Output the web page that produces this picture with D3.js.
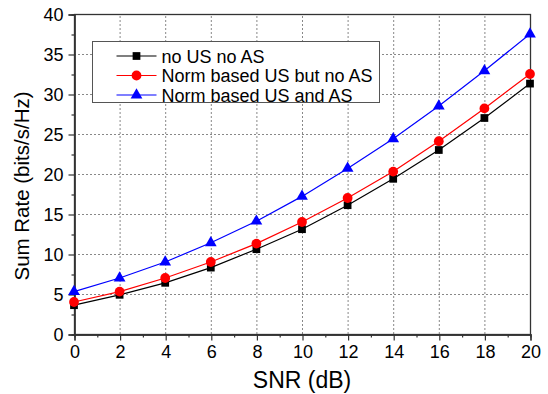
<!DOCTYPE html>
<html>
<head>
<meta charset="utf-8">
<script src="https://cdn.jsdelivr.net/npm/d3@7"></script>
<style>
  body { margin: 0; background: #fff; }
  svg { display: block; font-family: "Liberation Sans", Arial, sans-serif; }
</style>
</head>
<body>
<svg id="chart" width="548" height="394"></svg>
<script>
// SNR values (dB) along the x axis
const snr = [0, 2, 4, 6, 8, 10, 12, 14, 16, 18, 20];

// sum rate, one array per scheme
const noUsNoAs = [3.6, 4.9, 6.4, 8.3, 10.6, 13.1, 16.1, 19.4, 23.0, 27.0, 31.3];
const normUsNoAs = [4.0, 5.3, 7.0, 9.0, 11.3, 14.0, 17.0, 20.3, 24.1, 28.2, 32.5];
const normUsAs = [5.3, 7.0, 9.0, 11.4, 14.1, 17.2, 20.7, 24.4, 28.5, 32.9, 37.5];

const seriesNames = ['no US no AS', 'Norm based US but no AS', 'Norm based US and AS'];
const xTicks = [0, 2, 4, 6, 8, 10, 12, 14, 16, 18, 20];
const yTicks = [0, 5, 10, 15, 20, 25, 30, 35, 40];

const series = [
  { name: seriesNames[0], values: noUsNoAs, color: '#000000', symbol: d3.symbolSquare, size: 60 },
  { name: seriesNames[1], values: normUsNoAs, color: '#ff0000', symbol: d3.symbolCircle, size: 75 },
  { name: seriesNames[2], values: normUsAs, color: '#0000ff', symbol: d3.symbolTriangle, size: 60 }
];

const margin = { left: 74, right: 18, top: 14, bottom: 60 };
const width = 548, height = 394;
const svg = d3.select('#chart');

const x = d3.scaleLinear().domain([0, 20]).range([margin.left, width - margin.right]);
const y = d3.scaleLinear().domain([0, 40]).range([height - margin.bottom, margin.top]);

// dotted grid
const grid = svg.append('g').attr('stroke', '#888').attr('stroke-width', 1).attr('stroke-dasharray', '2,2');
grid.selectAll('line.gx').data(xTicks.slice(1, -1)).enter().append('line')
  .attr('x1', d => x(d) + 0.5).attr('x2', d => x(d) + 0.5)
  .attr('y1', y(0)).attr('y2', y(40));
grid.selectAll('line.gy').data(yTicks.slice(1, -1)).enter().append('line')
  .attr('y1', d => y(d) + 0.5).attr('y2', d => y(d) + 0.5)
  .attr('x1', x(0)).attr('x2', x(20));

// frame
svg.append('rect')
  .attr('x', x(0) + 0.5).attr('y', y(40) + 0.5)
  .attr('width', x(20) - x(0)).attr('height', y(0) - y(40))
  .attr('fill', 'none').attr('stroke', '#333').attr('stroke-width', 1.3);

// axes
svg.append('g').attr('transform', `translate(0.5,${y(0) + 0.5})`)
  .call(d3.axisBottom(x).tickValues(xTicks).tickSize(6).tickPadding(5));
svg.append('g').attr('transform', `translate(0.5,${y(0) + 0.5})`)
  .call(d3.axisBottom(x).tickValues(d3.range(1, 20, 2)).tickSize(3).tickFormat(''));
svg.append('g').attr('transform', `translate(${x(0) + 0.5},0.5)`)
  .call(d3.axisLeft(y).tickValues(yTicks).tickSize(6).tickPadding(5));
svg.append('g').attr('transform', `translate(${x(0) + 0.5},0.5)`)
  .call(d3.axisLeft(y).tickValues(d3.range(2.5, 40, 5)).tickSize(3).tickFormat(''));

svg.selectAll('.domain').attr('stroke', '#333').attr('stroke-width', 1.3);
svg.selectAll('.tick line').attr('stroke', '#333').attr('stroke-width', 1.2);
svg.selectAll('.tick text').attr('font-size', 18).attr('fill', '#000')
  .attr('font-family', '"Liberation Sans", Arial, sans-serif');

// axis titles
svg.append('text')
  .attr('x', 302).attr('y', 388)
  .attr('text-anchor', 'middle').attr('font-size', 23).text('SNR (dB)');
svg.append('text')
  .attr('transform', 'translate(29,186) rotate(-90)')
  .attr('text-anchor', 'middle').attr('font-size', 20.5).text('Sum Rate (bits/s/Hz)');

// lines and markers
const line = d3.line().x((d, i) => x(snr[i])).y(d => y(d));
series.forEach(s => {
  svg.append('path').datum(s.values)
    .attr('d', line).attr('fill', 'none')
    .attr('stroke', s.color).attr('stroke-width', 1.2);
  svg.selectAll(null).data(s.values).enter().append('path')
    .attr('transform', (d, i) => `translate(${x(snr[i])},${y(d)})`)
    .attr('d', d3.symbol().type(s.symbol).size(s.size))
    .attr('fill', s.color);
});

// legend
const legend = svg.append('g').attr('transform', 'translate(92.5,41.5)');
legend.append('rect')
  .attr('width', 287).attr('height', 61)
  .attr('fill', '#fff').attr('stroke', '#555').attr('stroke-width', 1);
series.forEach((s, i) => {
  const row = legend.append('g').attr('transform', `translate(0,${14.5 + i * 19.5})`);
  row.append('line').attr('x1', 24).attr('x2', 64)
    .attr('stroke', s.color).attr('stroke-width', 1.2);
  row.append('path').attr('transform', 'translate(44,0)')
    .attr('d', d3.symbol().type(s.symbol).size(s.size)).attr('fill', s.color);
  row.append('text').attr('x', 69).attr('y', 6.5)
    .attr('font-size', 18).text(s.name);
});
</script>
</body>
</html>
